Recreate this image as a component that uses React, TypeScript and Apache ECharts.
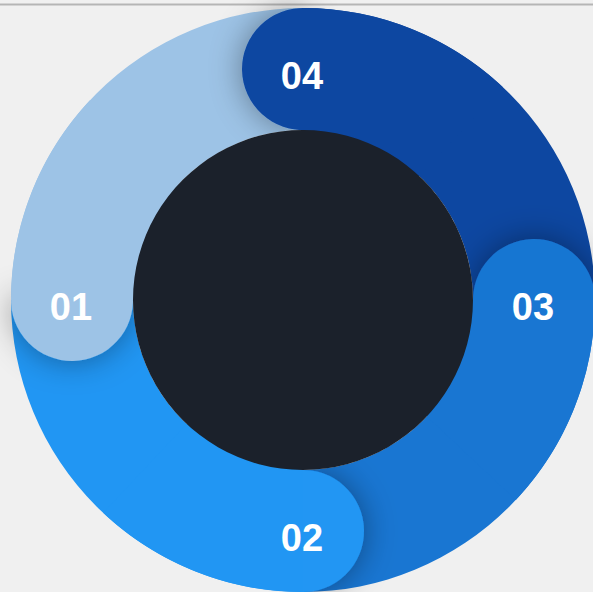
import React, { useEffect, useRef } from "react";
import * as echarts from "echarts";

// Data
const labels = ["01", "04", "03", "02"];
const values = [25, 25, 25, 25];
const colors = ["#9DC3E6", "#0D47A1", "#1976D2", "#2196F3"];
const centerColor = "#1B212B";

const CX = 303;
const CY = 300;
const R_OUT = 292;
const R_IN = 170;

export default function App() {
  const ref = useRef<HTMLDivElement>(null);

  useEffect(() => {
    if (!ref.current) return;
    const chart = echarts.init(ref.current, undefined, { renderer: "svg" });

    const total = values.reduce((a, b) => a + b, 0);
    const starts: number[] = [];
    let acc = 0;
    values.forEach((v) => {
      starts.push((acc / total) * 100);
      acc += v;
    });
    const segData = values.map((v, i) => [starts[i], starts[i] + (v / total) * 100, i]);
    const mid = (R_OUT + R_IN) / 2;
    const capR = (R_OUT - R_IN) / 2;

    const angleOf = (api: any, cs: any, r: number, v: number) => {
      const p = api.coord([r, v]);
      return Math.atan2(p[1] - cs.cy, p[0] - cs.cx);
    };

    chart.setOption({
      animation: false,
      backgroundColor: "#F0F0F0",
      polar: { center: [CX, CY], radius: [0, R_OUT] },
      radiusAxis: {
        type: "value",
        min: 0,
        max: R_OUT,
        axisLine: { show: false },
        axisTick: { show: false },
        axisLabel: { show: false },
        splitLine: { show: false },
      },
      angleAxis: {
        type: "value",
        min: 0,
        max: 100,
        startAngle: 180,
        clockwise: true,
        axisLine: { show: false },
        axisTick: { show: false },
        axisLabel: { show: false },
        splitLine: { show: false },
      },
      graphic: [
        {
          type: "line",
          shape: { x1: 0, y1: 4.5, x2: 593, y2: 4.5 },
          style: { stroke: "#B5B5B5", lineWidth: 2 },
        },
      ],
      series: [
        {
          type: "pie",
          z: 1,
          silent: true,
          center: [CX, CY],
          radius: [R_IN, R_OUT],
          startAngle: 180,
          clockwise: true,
          label: { show: false },
          labelLine: { show: false },
          data: labels.map((l, i) => ({ name: l, value: values[i], itemStyle: { color: colors[i] } })),
        },
        {
          type: "custom",
          coordinateSystem: "polar",
          z: 2,
          silent: true,
          data: segData,
          renderItem: (params: any, api: any) => {
            const s = api.value(0);
            const i = api.value(2);
            const p = api.coord([mid, s]);
            const q = api.coord([mid, s - 0.5]);
            const a = Math.atan2(q[1] - p[1], q[0] - p[0]);
            return {
              type: "sector",
              shape: {
                cx: p[0],
                cy: p[1],
                r0: 0,
                r: capR,
                startAngle: a - Math.PI / 2 - 0.06,
                endAngle: a + Math.PI / 2 + 0.06,
                clockwise: true,
              },
              style: { fill: colors[i], shadowBlur: 32, shadowColor: "rgba(0,0,0,0.38)" },
            };
          },
        },
        {
          type: "custom",
          coordinateSystem: "polar",
          z: 3,
          silent: true,
          data: segData,
          renderItem: (params: any, api: any) => {
            const cs = params.coordSys;
            const s = api.value(0);
            const i = api.value(2);
            return {
              type: "sector",
              shape: {
                cx: cs.cx,
                cy: cs.cy,
                r0: R_IN - 1,
                r: R_OUT,
                startAngle: angleOf(api, cs, R_OUT, s),
                endAngle: angleOf(api, cs, R_OUT, s + 12),
                clockwise: true,
              },
              style: { fill: colors[i] },
            };
          },
        },
        {
          type: "pie",
          z: 4,
          silent: true,
          center: [CX, CY],
          radius: [0, R_IN],
          label: { show: false },
          labelLine: { show: false },
          data: [{ name: "center", value: 1, itemStyle: { color: centerColor } }],
        },
        {
          type: "custom",
          coordinateSystem: "polar",
          z: 5,
          silent: true,
          data: segData,
          renderItem: (params: any, api: any) => {
            const s = api.value(0);
            const i = api.value(2);
            const p = api.coord([mid, s]);
            return {
              type: "text",
              x: p[0] - 1,
              y: p[1] + 7,
              style: {
                text: labels[i],
                fill: "#FFFFFF",
                font: "bold 38px 'Liberation Sans', Arial, sans-serif",
                align: "center",
                verticalAlign: "middle",
              },
            };
          },
        },
      ],
    });

    return () => chart.dispose();
  }, []);

  return (
    <div
      ref={ref}
      style={{ position: "absolute", left: 0, top: 0, width: 593, height: 592 }}
    />
  );
}
